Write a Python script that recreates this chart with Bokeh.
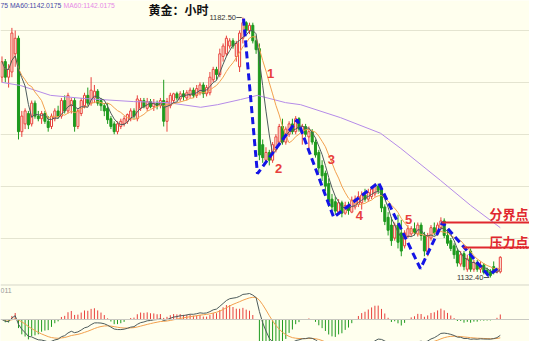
import numpy as np
import pandas as pd
from bokeh.plotting import figure
from bokeh.models import ColumnDataSource, Range1d, Span, Label, FixedTicker
from bokeh.core.properties import value
from bokeh.embed import file_html
from bokeh.resources import INLINE

# ---------------- data (hourly gold candles) ----------------
opens = [1171, 1174, 1171, 1172, 1175.5, 1178.5, 1160.5, 1162, 1164, 1162,
         1166, 1163.5, 1163, 1164, 1162.5, 1161.5, 1163, 1164.5, 1163.5, 1166.5,
         1164.5, 1165.5, 1166.5, 1161.5, 1164, 1165.5, 1167.5, 1166, 1167, 1168.3,
         1166.5, 1165.5, 1165, 1163, 1162, 1160.5, 1161.5, 1162, 1162.5, 1163,
         1164.5, 1163, 1165, 1166.5, 1165, 1166.3, 1165.3, 1166, 1165.5, 1166.5,
         1162.5, 1165.5, 1166.5, 1167.8, 1166.8, 1167.8, 1167, 1167.5, 1168.5, 1167.5,
         1168, 1169.5, 1167.8, 1168, 1170.5, 1172.5, 1171.5, 1175, 1175.5, 1177,
         1178, 1175, 1173, 1178.5, 1181.5, 1180, 1181, 1178, 1176.5, 1158,
         1155, 1156.5, 1155, 1157, 1158.5, 1161.5, 1158.5, 1160, 1162, 1160.5,
         1163, 1160.5, 1161.5, 1159.5, 1160.5, 1158.5, 1156.5, 1154, 1152.5, 1150.5,
         1147.5, 1147, 1145, 1146.8, 1144.8, 1146.3, 1145, 1146, 1146.5, 1146.8,
         1148.3, 1147.5, 1148, 1148.5, 1150, 1149.5, 1146, 1144, 1142.5, 1140,
         1142.5, 1141, 1138.5, 1140.3, 1140.8, 1141.8, 1140.8, 1142.5, 1140.5, 1137.3,
         1140, 1142, 1140.8, 1142, 1143.3, 1140.5, 1139.5, 1138.5, 1137.5, 1135,
         1137, 1134, 1137.5, 1134, 1135.3, 1134, 1134.8, 1133.8, 1133.5, 1134.5,
         1133.5, 1133.5]
highs = [1175, 1174.5, 1173.5, 1180.5, 1180, 1179, 1164.5, 1165, 1164.5, 1166.5,
         1166.5, 1164.5, 1164.5, 1164.5, 1163.5, 1164, 1165, 1165.5, 1167, 1167.5,
         1168, 1167, 1167, 1165, 1167, 1168, 1169, 1171, 1169.5, 1168.7,
         1167, 1166, 1166, 1163.5, 1162.5, 1162.5, 1163, 1163.5, 1164, 1165,
         1165, 1167.5, 1167, 1167, 1167, 1166.8, 1166.8, 1166.5, 1167, 1170.5,
         1167, 1168, 1168, 1168.2, 1168.3, 1168.5, 1168.5, 1169, 1169, 1169.5,
         1170, 1170, 1169.5, 1172, 1173, 1173, 1176.5, 1177.5, 1179, 1178.5,
         1178.5, 1178, 1180, 1182.5, 1181.8, 1181.5, 1181.5, 1179, 1177.5, 1159,
         1157.5, 1157, 1158.5, 1160, 1162, 1163, 1161.5, 1162.5, 1163, 1163.5,
         1163.3, 1162, 1162, 1161.5, 1161, 1159, 1157, 1155, 1153, 1151.5,
         1148.5, 1148, 1147.5, 1147.2, 1147, 1147, 1148, 1148.2, 1149, 1149,
         1149.5, 1149.5, 1150, 1150.5, 1150.5, 1150, 1146.5, 1145, 1144, 1143,
         1144.5, 1143.5, 1141.5, 1142.5, 1142.3, 1143, 1143, 1143, 1141.2, 1141,
         1142.5, 1143, 1143, 1144, 1143.8, 1141.5, 1140, 1139, 1138, 1137.5,
         1137.5, 1136.8, 1138, 1135.8, 1135.8, 1135.5, 1135.2, 1134.3, 1134, 1135.5,
         1134.3, 1136.5]
lows = [1170, 1170, 1169, 1171, 1173, 1159, 1159.5, 1161, 1161, 1161.5,
        1163, 1162.5, 1162, 1162, 1160.5, 1161, 1162.5, 1163, 1163, 1164,
        1164, 1164, 1160.5, 1161, 1163.5, 1165, 1165.5, 1165.5, 1166, 1165.5,
        1164.5, 1163.5, 1162, 1161, 1160, 1160, 1161, 1161.5, 1162, 1162.5,
        1163, 1162.5, 1164.5, 1165, 1164.5, 1165, 1164.5, 1164.8, 1165, 1161.5,
        1160.5, 1165, 1166, 1166.5, 1166.3, 1166.5, 1166.5, 1167, 1167, 1167,
        1167.5, 1167, 1167.3, 1167.5, 1170, 1170.5, 1171, 1174, 1175, 1176.5,
        1176.5, 1174, 1172, 1177.5, 1179.5, 1179.3, 1177.5, 1175.5, 1155, 1154.5,
        1154.5, 1154, 1154.5, 1156.5, 1158, 1158, 1158, 1159.5, 1160, 1160,
        1160.5, 1158, 1159.5, 1157, 1158, 1155.5, 1152.5, 1151, 1149, 1146,
        1145, 1144.5, 1144.5, 1144, 1144.5, 1144.5, 1144.8, 1145.5, 1146, 1145.5,
        1147, 1147, 1147.5, 1148, 1148.5, 1145, 1142.5, 1140.5, 1138.5, 1139.5,
        1138, 1136.5, 1138, 1140, 1140.3, 1140.5, 1140.3, 1139.5, 1136.5, 1136.5,
        1139.5, 1140.5, 1140.5, 1141.5, 1140, 1138.5, 1137.5, 1136, 1134.5, 1134.5,
        1133.8, 1133.5, 1133.5, 1133.5, 1133.5, 1133.3, 1133, 1132.8, 1132.4, 1133,
        1133.2, 1133.2]
closes = [1174, 1171, 1172.5, 1179.5, 1178.5, 1160.5, 1163.5, 1164.5, 1161.8, 1166,
          1163.5, 1163, 1164, 1162.5, 1161.3, 1163.5, 1164.5, 1163.5, 1166.5, 1164.5,
          1167.5, 1166.5, 1161.5, 1164.5, 1166.5, 1167.5, 1166, 1168.5, 1168.3, 1166,
          1165.5, 1164.5, 1162.8, 1161.5, 1160.5, 1162, 1162.5, 1163, 1163.8, 1164.5,
          1163.5, 1166.8, 1166.5, 1165.3, 1166.3, 1165.3, 1166, 1165.5, 1166.5, 1162.5,
          1166.3, 1167.5, 1167.8, 1167, 1167.8, 1167.2, 1168, 1168.5, 1167.5, 1168.8,
          1169.5, 1167.8, 1169, 1171, 1172.5, 1171.5, 1175.5, 1177, 1178.5, 1178,
          1177, 1177.5, 1179.5, 1181.5, 1180, 1181, 1178, 1176.3, 1156, 1155.5,
          1156.5, 1155, 1158, 1159.5, 1161.5, 1158.5, 1161, 1162, 1160.5, 1163,
          1161, 1161.5, 1160, 1160.5, 1158.5, 1156, 1153.5, 1152, 1150, 1147,
          1146, 1145.2, 1146.8, 1144.8, 1146.3, 1145.3, 1147.3, 1147.5, 1148, 1148.3,
          1147.5, 1148.8, 1149.5, 1150, 1149.2, 1145.8, 1143.2, 1141.5, 1139.5, 1142.5,
          1139.2, 1137.5, 1141, 1141.8, 1141.8, 1141, 1142.5, 1140.5, 1137.5, 1140.5,
          1142, 1141, 1142.5, 1143.3, 1140.5, 1139, 1138, 1136.8, 1135.2, 1136.8,
          1134.5, 1136, 1134, 1135.3, 1134, 1134.8, 1133.4, 1133.2, 1132.8, 1133.5,
          1134, 1136.3]

# MA60 (bar index, price)
ma60_x = [0, 5.6, 14.7, 24.7, 39.8, 50.2, 60.2, 65.3, 72.3, 77.4, 85.9, 90.5,
          102.6, 114.7, 120.8, 132.9, 142, 151]
ma60_y = [1170.0, 1169.4, 1167.5, 1166.9, 1166.3, 1166.1, 1165.2, 1165.7, 1166.7,
          1167.5, 1166.1, 1165.7, 1163.2, 1160.2, 1157.3, 1151.1, 1146.3, 1142.0]

# hand-drawn wave annotation pivots (bar index, price)
wave_x = [73.2, 77.4, 89.5, 100.5, 114.1, 126.8, 133.5, 147.4, 150.2]
wave_y = [1182.3, 1152.4, 1162.8, 1144.0, 1150.7, 1134.1, 1143.0, 1132.8, 1134.1]
wave_num = ["1", "2", "3", "4", "5"]
wave_num_x = [81.4, 83.8, 99.8, 108.3, 123.2]
wave_num_y = [1171.7, 1153.4, 1155.1, 1144.4, 1143.6]

# key levels
level_names = ["分界点", "压力点"]
level_price = [1143.0, 1138.2]
level_x0 = [133.2, 139.8]
level_x1 = [162.3, 161.1]
level_text_x = [147.7, 147.7]
level_text_y = [1144.73, 1139.34]

grid_prices = [1140, 1150, 1160, 1170, 1180]

# ---------------- styles ----------------
BG = "#FFFFEE"
RED = "#E8403C"
GREEN = "#1E9A1E"
MA5C = "#4E5C5C"
MA10C = "#F2A04E"
MA60C = "#B58BE8"
BLUE = "#1414E6"

o = np.array(opens); h = np.array(highs); l = np.array(lows); c = np.array(closes)
idx = np.arange(len(c))
up = c >= o

p = figure(width=529, height=341, output_backend="svg", toolbar_location=None,
           x_range=Range1d(-0.4545, 159.85), y_range=Range1d(1120.073, 1185.776),
           x_axis_location=None, y_axis_location=None,
           min_border=0, min_border_left=0, min_border_right=0,
           min_border_top=0, min_border_bottom=0)
p.background_fill_color = BG
p.border_fill_color = BG
p.outline_line_color = None
p.xgrid.visible = False
p.ygrid.ticker = FixedTicker(ticks=grid_prices)
p.ygrid.grid_line_color = "#E4E4D0"
p.ygrid.grid_line_width = 1

# separator between price pane and MACD pane
p.add_layout(Span(location=1130.96, dimension="width", line_color="#D6D6C8", line_width=1))

# candles
su = ColumnDataSource(dict(x=idx[up], top=c[up], bottom=o[up], hi=h[up], lo=l[up]))
sd = ColumnDataSource(dict(x=idx[~up], top=o[~up], bottom=c[~up], hi=h[~up], lo=l[~up]))
p.segment(x0="x", y0="lo", x1="x", y1="hi", source=su, line_color=RED, line_width=1)
p.segment(x0="x", y0="lo", x1="x", y1="hi", source=sd, line_color=GREEN, line_width=1)
p.vbar(x="x", top="top", bottom="bottom", width=0.62, source=su,
       fill_color=BG, line_color=RED, line_width=1)
p.vbar(x="x", top="top", bottom="bottom", width=0.62, source=sd,
       fill_color=GREEN, line_color=GREEN, line_width=1)

# moving averages
cs = pd.Series(c)
ma5 = cs.rolling(5, min_periods=1).mean()
ma10 = cs.rolling(10, min_periods=1).mean()
p.line(ma60_x, ma60_y, line_color=MA60C, line_width=1)
p.line(idx, ma10.values, line_color=MA10C, line_width=1)
p.line(idx, ma5.values, line_color=MA5C, line_width=1)

# highest / lowest markers
pk = int(np.argmax(h)); lo_i = int(np.argmin(l))
p.segment(x0=[pk - 2.0, lo_i - 2.0], y0=[h[pk], l[lo_i]],
          x1=[pk - 0.35, lo_i - 0.35], y1=[h[pk], l[lo_i]], line_color="#555555", line_width=1)
p.text(x=[pk - 2.1, lo_i - 2.1], y=[h[pk], l[lo_i]],
       text=[f"{h[pk]:.2f}", f"{l[lo_i]:.2f}"], text_align="right", text_baseline="middle",
       text_font=value("Liberation Sans"), text_font_size="7.5px", text_color="#333333")

# wave annotation
p.line(wave_x, wave_y, line_color=BLUE, line_width=3, line_dash="7 4")
p.text(x=wave_num_x, y=wave_num_y, text=wave_num, text_align="center", text_baseline="middle",
       text_font=value("Liberation Sans"), text_font_style="bold", text_font_size="13px",
       text_color=RED)

# key levels
p.segment(x0=level_x0, y0=level_price, x1=level_x1, y1=level_price, line_color="#E0282E", line_width=2)
p.text(x=level_text_x, y=level_text_y, text=level_names, text_align="left", text_baseline="middle",
       text_font=value("Noto Sans CJK SC"), text_font_style="bold", text_font_size="13px",
       text_color="#E0282E")

# ---------------- MACD pane ----------------
ema12 = cs.ewm(span=12, adjust=False).mean()
ema26 = cs.ewm(span=26, adjust=False).mean()
dif = (ema12 - ema26).values
dea = pd.Series(dif).ewm(span=9, adjust=False).mean().values
hist = 2 * (dif - dea)
k = 26.0 / float(np.max(dif))  # px per unit
p.extra_y_ranges = {"macd": Range1d(-22.0 / k, 319.0 / k)}
p.add_layout(Span(location=0, dimension="width", line_color="#C8C8C0", line_width=1,
                  y_range_name="macd"))
hp = hist > 0
p.segment(x0=idx[hp], y0=np.zeros(hp.sum()), x1=idx[hp], y1=hist[hp], line_color=RED,
          line_width=1, y_range_name="macd")
p.segment(x0=idx[~hp], y0=np.zeros((~hp).sum()), x1=idx[~hp], y1=hist[~hp], line_color=GREEN,
          line_width=1, y_range_name="macd")
p.line(idx, dea, line_color=MA10C, line_width=1, y_range_name="macd")
p.line(idx, dif, line_color=MA5C, line_width=1, y_range_name="macd")

# ---------------- header texts ----------------
p.add_layout(Label(x=0, y=340, x_units="screen", y_units="screen", text="75 MA60:1142.0175",
                   text_font="Liberation Sans", text_font_size="6.8px", text_color="#4848A8",
                   text_baseline="top"))
p.add_layout(Label(x=63, y=340, x_units="screen", y_units="screen", text="MA60:1142.0175",
                   text_font="Liberation Sans", text_font_size="6.8px", text_color="#E68AE6",
                   text_baseline="top"))
p.add_layout(Label(x=148, y=341, x_units="screen", y_units="screen", text="黄金：小时",
                   text_font="Noto Sans CJK SC", text_font_style="bold", text_font_size="12px",
                   text_color="#111111", text_baseline="top"))
p.add_layout(Label(x=0, y=51, x_units="screen", y_units="screen", text="011",
                   text_font="Liberation Sans", text_font_size="7px", text_color="#999999",
                   text_baseline="middle"))

open("out.html", "w").write(file_html(p, INLINE))
